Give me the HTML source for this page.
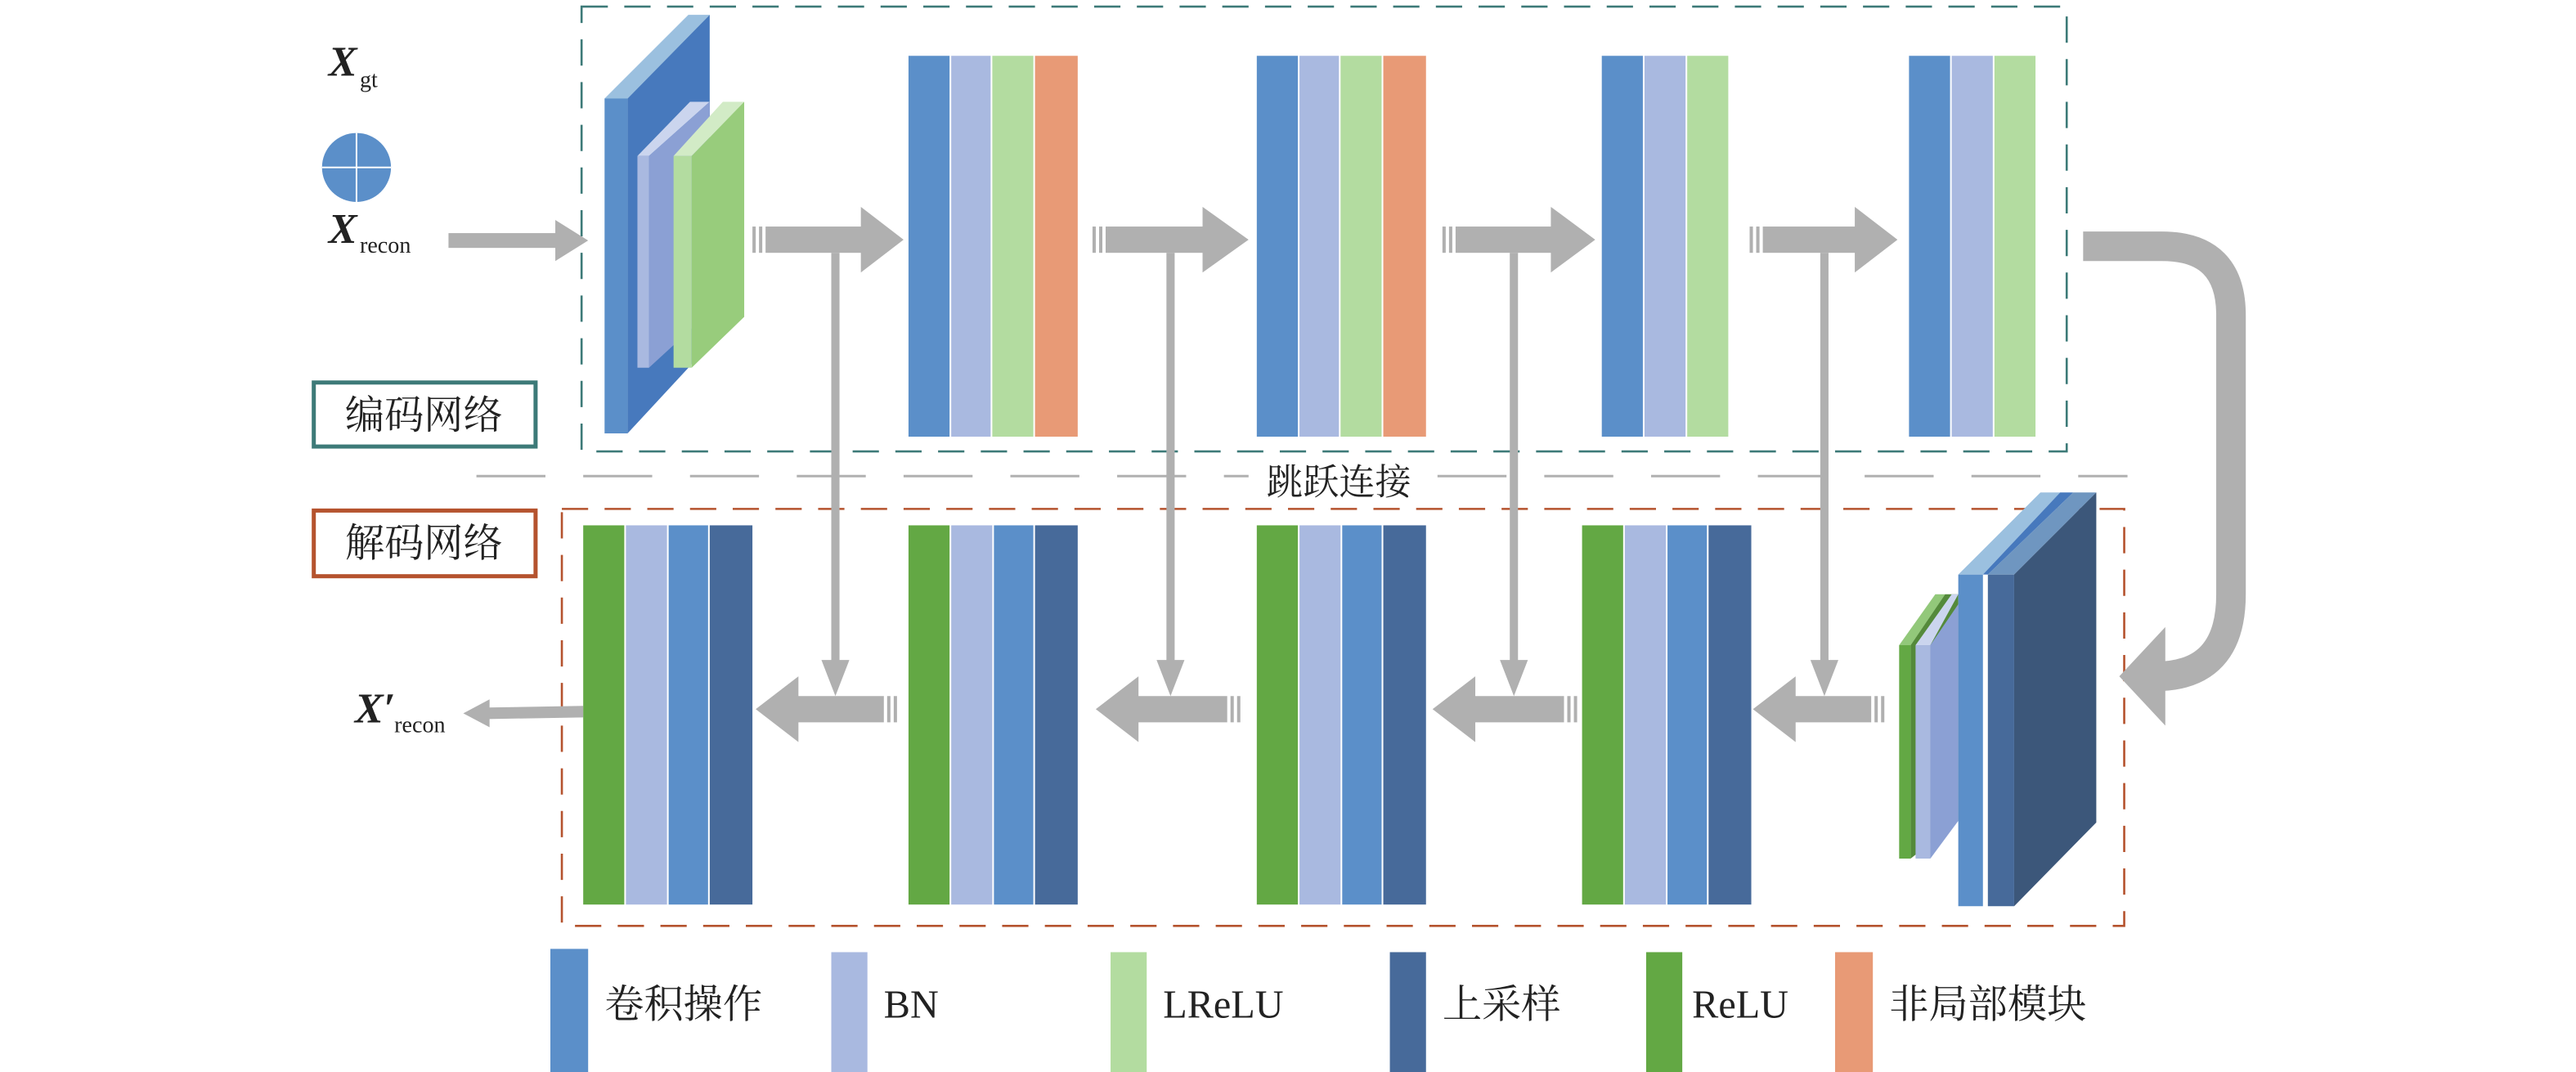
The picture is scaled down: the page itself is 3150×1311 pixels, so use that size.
<!DOCTYPE html>
<html><head><meta charset="utf-8"><style>
html,body{margin:0;padding:0;background:#fff;}
svg{display:block;}
text{font-family:"Liberation Serif","Noto Serif CJK SC",serif;fill:#222;}
</style></head><body>
<svg width="3150" height="1311" viewBox="0 0 1568 653" preserveAspectRatio="none" xmlns="http://www.w3.org/2000/svg">
<rect x="354" y="4" width="904" height="271" fill="none" stroke="#3d7a78" stroke-width="1.3" stroke-dasharray="16 10"/>
<rect x="342" y="310" width="951" height="254" fill="none" stroke="#b5532e" stroke-width="1.3" stroke-dasharray="16 10"/>
<line x1="290" y1="290" x2="1295" y2="290" stroke="#b0b0b0" stroke-width="1.5" stroke-dasharray="42 23"/>
<rect x="760" y="280" width="110" height="24" fill="#fff"/>
<text x="815" y="301" font-size="22" text-anchor="middle">跳跃连接</text>
<rect x="191" y="233" width="135" height="39" fill="#fff" stroke="#3d7a78" stroke-width="2.5"/>
<text x="258" y="261" font-size="24" text-anchor="middle">编码网络</text>
<rect x="191" y="311" width="135" height="40" fill="#fff" stroke="#b5532e" stroke-width="2.5"/>
<text x="258" y="339" font-size="24" text-anchor="middle">解码网络</text>
<text x="200" y="46" font-size="26" font-style="italic" font-weight="bold">X</text>
<text x="219" y="53" font-size="14">gt</text>
<ellipse cx="217" cy="102" rx="21" ry="21" fill="#5b8fc9"/>
<line x1="196" y1="102" x2="238" y2="102" stroke="#fff" stroke-width="1"/>
<line x1="217" y1="81" x2="217" y2="123" stroke="#fff" stroke-width="1"/>
<text x="200" y="148" font-size="26" font-style="italic" font-weight="bold">X</text>
<text x="219" y="154" font-size="14">recon</text>
<rect x="273" y="142" width="68" height="9" fill="#b0b0b0"/>
<polygon points="338,134 358,146.5 338,159" fill="#b0b0b0"/>
<polygon points="368,60 419,9 432,9 382,60" fill="#9bc0df"/>
<polygon points="382,60 432,9 432,210 382,264" fill="#4779bd"/>
<rect x="368" y="60" width="14" height="204" fill="#5b8fc9"/>
<polygon points="388,95 420,62 432,62 395,95" fill="#cbd5ee"/>
<polygon points="395,95 432,62 432,190 395,224" fill="#8ba0d4"/>
<rect x="388" y="95" width="7" height="129" fill="#a9b9e0"/>
<polygon points="410,95 440,62 453,62 421,95" fill="#d2ebc6"/>
<polygon points="421,95 453,62 453,193 421,224" fill="#98cc7c"/>
<rect x="410" y="95" width="11" height="129" fill="#b3dca0"/>
<g>
<rect x="553" y="34" width="25" height="232" fill="#5b8fc9"/><rect x="579" y="34" width="24" height="232" fill="#a9b9e0"/><rect x="604" y="34" width="25" height="232" fill="#b3dca0"/><rect x="630" y="34" width="26" height="232" fill="#e89a76"/>
<rect x="765" y="34" width="25" height="232" fill="#5b8fc9"/><rect x="791" y="34" width="24" height="232" fill="#a9b9e0"/><rect x="816" y="34" width="25" height="232" fill="#b3dca0"/><rect x="842" y="34" width="26" height="232" fill="#e89a76"/>
<rect x="975" y="34" width="25" height="232" fill="#5b8fc9"/><rect x="1001" y="34" width="25" height="232" fill="#a9b9e0"/><rect x="1027" y="34" width="25" height="232" fill="#b3dca0"/>
<rect x="1162" y="34" width="25" height="232" fill="#5b8fc9"/><rect x="1188" y="34" width="25" height="232" fill="#a9b9e0"/><rect x="1214" y="34" width="25" height="232" fill="#b3dca0"/>
</g>
<g fill="#b0b0b0">
<rect x="458" y="138" width="2" height="16"/><rect x="462" y="138" width="2" height="16"/><rect x="466" y="138" width="62" height="16"/><polygon points="524,126 550,146 524,166"/>
<rect x="665" y="138" width="2" height="16"/><rect x="669" y="138" width="2" height="16"/><rect x="673" y="138" width="63" height="16"/><polygon points="732,126 760,146 732,166"/>
<rect x="878" y="138" width="2" height="16"/><rect x="882" y="138" width="2" height="16"/><rect x="886" y="138" width="62" height="16"/><polygon points="944,126 971,146 944,166"/>
<rect x="1065" y="138" width="2" height="16"/><rect x="1069" y="138" width="2" height="16"/><rect x="1073" y="138" width="60" height="16"/><polygon points="1129,126 1155,146 1129,166"/>
<rect x="506" y="154" width="5" height="250"/><polygon points="500,402 517,402 508.5,424"/>
<rect x="710" y="154" width="5" height="250"/><polygon points="704,402 721,402 712.5,424"/>
<rect x="919" y="154" width="5" height="250"/><polygon points="913,402 930,402 921.5,424"/>
<rect x="1108" y="154" width="5" height="250"/><polygon points="1102,402 1119,402 1110.5,424"/>
<polygon points="460,432 486,412 486,452"/><rect x="484" y="424" width="54" height="16"/><rect x="540" y="424" width="2" height="16"/><rect x="544" y="424" width="2" height="16"/>
<polygon points="667,432 693,412 693,452"/><rect x="691" y="424" width="56" height="16"/><rect x="749" y="424" width="2" height="16"/><rect x="753" y="424" width="2" height="16"/>
<polygon points="872,432 898,412 898,452"/><rect x="896" y="424" width="56" height="16"/><rect x="954" y="424" width="2" height="16"/><rect x="958" y="424" width="2" height="16"/>
<polygon points="1067,432 1093,412 1093,452"/><rect x="1091" y="424" width="48" height="16"/><rect x="1141" y="424" width="2" height="16"/><rect x="1145" y="424" width="2" height="16"/>
<polygon points="297,431 355,430 355,437 297,438"/><polygon points="282,434.5 298,426 298,443"/>
<path d="M1268,150 L1316,150 Q1358,150 1358,192 L1358,362 Q1358,412 1312,412" fill="none" stroke="#b0b0b0" stroke-width="18"/>
<polygon points="1290,412 1318,382 1318,442"/>
</g>
<g>
<rect x="355" y="320" width="25" height="231" fill="#63a844"/><rect x="381" y="320" width="25" height="231" fill="#a9b9e0"/><rect x="407" y="320" width="24" height="231" fill="#5b8fc9"/><rect x="432" y="320" width="26" height="231" fill="#476a9a"/>
<rect x="553" y="320" width="25" height="231" fill="#63a844"/><rect x="579" y="320" width="25" height="231" fill="#a9b9e0"/><rect x="605" y="320" width="24" height="231" fill="#5b8fc9"/><rect x="630" y="320" width="26" height="231" fill="#476a9a"/>
<rect x="765" y="320" width="25" height="231" fill="#63a844"/><rect x="791" y="320" width="25" height="231" fill="#a9b9e0"/><rect x="817" y="320" width="24" height="231" fill="#5b8fc9"/><rect x="842" y="320" width="26" height="231" fill="#476a9a"/>
<rect x="963" y="320" width="25" height="231" fill="#63a844"/><rect x="989" y="320" width="25" height="231" fill="#a9b9e0"/><rect x="1015" y="320" width="24" height="231" fill="#5b8fc9"/><rect x="1040" y="320" width="26" height="231" fill="#476a9a"/>
</g>
<polygon points="1156,393 1178,362 1184,362 1163,393" fill="#92c87a"/>
<polygon points="1163,393 1184,362 1192,362 1192,500 1163,523" fill="#548a3b"/>
<rect x="1156" y="393" width="7" height="130" fill="#63a844"/>
<polygon points="1166,393 1188,362 1192,362 1175,393" fill="#cbd5ee"/>
<polygon points="1175,393 1192,368 1192,500 1175,523" fill="#8ba0d4"/>
<rect x="1166" y="393" width="9" height="130" fill="#a9b9e0"/>
<polygon points="1192,350 1242,300 1254,300 1207,350" fill="#9bc0df"/>
<polygon points="1207,350 1254,300 1262,300 1210,350" fill="#4779bd"/>
<rect x="1192" y="350" width="15" height="202" fill="#5b8fc9"/>
<polygon points="1210,350 1262,300 1276,300 1226,350" fill="#6f96c0"/>
<polygon points="1226,350 1276,300 1276,501 1226,552" fill="#3c577a"/>
<rect x="1210" y="350" width="16" height="202" fill="#476a9a"/>
<rect x="335" y="578" width="23" height="75" fill="#5b8fc9"/>
<text x="368" y="620" font-size="24">卷积操作</text>
<rect x="506" y="580" width="22" height="73" fill="#a9b9e0"/>
<text x="538" y="620" font-size="24">BN</text>
<rect x="676" y="580" width="22" height="73" fill="#b3dca0"/>
<text x="708" y="620" font-size="24">LReLU</text>
<rect x="846" y="580" width="22" height="73" fill="#476a9a"/>
<text x="878" y="620" font-size="24">上采样</text>
<rect x="1002" y="580" width="22" height="73" fill="#63a844"/>
<text x="1030" y="620" font-size="24">ReLU</text>
<rect x="1117" y="580" width="23" height="73" fill="#e89a76"/>
<text x="1150" y="620" font-size="24">非局部模块</text>
<text x="216" y="440" font-size="26" font-style="italic" font-weight="bold">X′</text>
<text x="240" y="446" font-size="14">recon</text>
</svg>
</body></html>
